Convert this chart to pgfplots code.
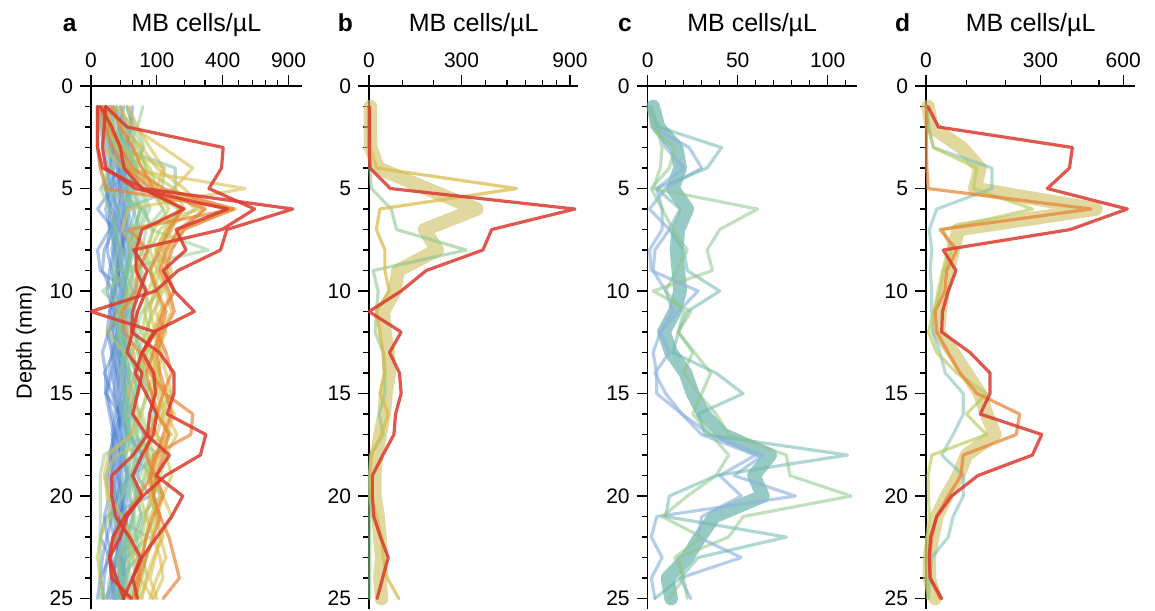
\documentclass[border=0pt]{standalone}
\usepackage{fontspec}
\setmainfont{Liberation Sans}
\usepackage{pgfplots}
\usepackage{pgfplotstable}
\pgfplotsset{compat=1.18}

\definecolor{cBlue}{HTML}{4A7CCF}
\definecolor{cLBlue}{HTML}{8FB4DE}
\definecolor{cTeal}{HTML}{6DB8B0}
\definecolor{cGreen}{HTML}{8DC68B}
\definecolor{cYG}{HTML}{B8C95C}
\definecolor{cYel}{HTML}{D9BC4E}
\definecolor{cOra}{HTML}{E8853A}
\definecolor{cRed}{HTML}{DB3A30}
\definecolor{cKhaki}{HTML}{CFC36A}
\definecolor{cMeanT}{HTML}{5FAEA5}

% one row per profile, values at depth 1..25 mm (MB cells/uL)
\pgfplotstableread{
name v1 v2 v3 v4 v5 v6 v7 v8 v9 v10 v11 v12 v13 v14 v15 v16 v17 v18 v19 v20 v21 v22 v23 v24 v25
B1 2 5 8 12 10 15 9 14 18 12 10 15 20 14 12 18 22 15 10 14 18 12 8 10 6
B2 20 28 35 25 18 22 30 20 15 25 30 22 18 25 28 20 15 22 30 25 18 20 15 12 8
B3 5 3 6 10 14 8 12 20 16 10 8 12 16 10 14 20 12 8 12 16 10 6 10 14 10
B4 30 40 25 18 22 28 20 25 32 22 18 25 20 28 22 16 20 26 18 22 28 20 16 10 14
B5 1 2 4 6 9 5 8 6 10 14 8 6 10 8 5 8 12 9 6 8 4 6 3 2 1
B6 12 18 24 30 20 16 24 35 28 20 24 30 22 18 26 32 24 18 22 16 24 30 20 18 22
B7 8 12 10 16 24 18 14 10 16 22 26 18 12 16 20 14 10 14 18 24 16 12 18 22 16
B8 40 35 30 22 28 35 26 18 24 30 20 16 22 30 35 25 18 24 32 26 20 15 22 28 20
B9 3 6 12 8 5 10 16 12 8 6 12 18 14 10 6 10 14 20 15 10 8 12 6 4 3
B10 15 22 18 26 32 24 18 14 20 26 18 22 28 20 16 24 30 22 16 20 26 18 22 26 20
B11 6 10 15 20 16 12 20 26 18 14 22 16 10 14 18 24 18 12 8 12 16 20 14 10 12
B12 25 18 12 16 20 26 32 22 16 20 14 10 16 22 28 20 14 10 16 24 18 14 20 16 12
LB1 10 20 30 45 35 25 30 40 28 20 30 38 26 20 25 30 36 28 22 30 40 32 24 30 26
LB2 2 4 8 15 25 20 12 18 22 30 24 16 20 26 18 12 18 24 30 22 16 12 8 14 10
LB3 35 45 38 28 20 30 42 34 26 20 16 24 32 22 18 26 20 14 18 24 30 22 16 20 24
LB4 5 10 14 10 8 14 20 16 12 18 24 20 14 10 16 22 28 20 14 10 12 16 22 18 14
T1 8 15 30 50 40 30 35 45 30 25 35 40 28 22 30 38 30 24 35 45 30 25 20 28 22
T2 20 30 45 35 28 40 55 38 30 40 30 25 35 45 32 28 36 50 40 30 25 35 30 22 18
T3 3 8 12 20 30 45 35 28 22 30 26 20 28 35 25 20 30 40 28 20 15 22 28 20 16
T4 12 20 25 32 40 55 45 30 38 45 35 30 24 30 40 35 28 22 30 35 42 30 25 20 15
G1 62 50 65 40 35 55 45 60 40 30 45 55 38 32 42 50 36 28 40 48 38 30 36 28 22
G2 5 25 55 70 60 80 55 45 60 70 50 40 55 62 48 40 50 58 42 35 45 38 30 36 28
G3 15 22 30 45 80 120 70 60 80 110 60 45 55 70 50 42 60 80 55 45 60 50 40 45 35
G4 2 6 15 30 45 60 90 75 55 65 85 70 50 60 75 55 48 65 72 50 40 48 55 40 32
G5 30 40 62 48 55 70 50 40 55 48 38 45 60 50 42 55 65 45 38 50 58 42 36 30 25
YG1 10 20 40 80 100 140 90 70 85 100 70 60 80 95 70 60 75 90 65 55 70 60 50 55 45
YG2 5 12 25 60 160 200 110 80 100 75 65 80 70 60 85 100 80 70 90 110 80 70 60 50 40
YG3 20 35 50 70 90 120 150 100 80 95 120 90 70 85 100 120 140 90 75 85 95 70 60 75 55
YG4 3 8 15 35 60 180 130 95 150 120 90 70 85 110 95 80 100 130 110 90 100 85 70 60 50
Y1 15 40 120 239 160 250 130 100 110 90 80 95 120 100 85 110 140 110 90 80 100 120 90 70 60
Y2 8 20 60 100 200 300 200 140 120 160 110 90 110 130 150 120 100 130 150 120 100 110 130 100 80
Y3 5 10 20 40 90 485 180 120 100 130 150 110 90 100 120 160 130 100 90 80 70 90 110 120 90
Y4 30 50 80 120 100 180 150 120 140 110 95 130 100 90 110 130 170 130 100 120 150 110 95 80 100
O1 4 8 20 40 120 463 200 150 130 160 120 100 130 150 120 100 140 120 100 90 110 140 160 180 120
O2 2 5 10 30 80 194 140 110 80 100 130 110 90 70 85 100 80 70 95 120 88 70 60 50 40
O3 10 20 40 60 90 300 180 130 110 140 160 120 100 110 130 150 120 100 80 90 110 90 70 55 45
R3 5 4 3 5 45 430 167 208 120 160 246 90 60 45 70 100 90 60 40 60 30 20 8 15 25
R4 2 10 20 25 60 200 60 47 47 70 50 40 30 60 50 40 70 142 98 194 150 100 60 40 50
bM 4 4 5 27 175 361 170 212 86 77 42 47 57 60 50 45 33 22 17 17 27 32 37 32 37
bR 1 1 1 3 63 940 426 387 175 96 0 96 61 91 96 79 74 41 10 10 14 34 57 40 24
bY 3 3 4 22 550 32 22 47 47 60 22 32 42 47 32 57 37 7 4 7 22 37 42 54 89
bG 1 1 1 2 7 66 82 318 12 27 22 18 42 47 47 30 42 4 2 2 2 2 2 2 2
cM 3 6 16 18 14 22 17 16 17 18 15 9 13 21 25 31 42 68 59 64 37 29 22 11 13
cB1 1 3 23 30 10 1 12 4 3 10 14 7 3 5 5 19 35 64 48 82 5 2 8 2 4
cB2 2 5 10 20 5 8 8 1 2 28 17 7 12 4 10 19 30 60 40 52 30 28 52 18 24
cT1 1 6 41 33 5 18 12 20 22 40 22 17 14 38 53 28 32 111 38 12 10 77 28 18 4
cG1 2 5 8 7 3 61 40 33 36 3 24 17 25 20 28 38 45 77 79 113 53 45 17 20 12
cG2 1 2 15 12 2 8 14 22 16 10 20 17 26 35 30 25 35 45 38 22 8 30 15 20 22
dM 5 14 87 133 120 488 79 66 54 42 34 30 66 99 133 150 172 99 79 50 26 16 8 8 22
dR 5 30 403 393 321 618 396 42 73 54 40 38 108 159 159 134 304 276 128 62 26 11 8 10 38
dO 1 1 1 2 5 470 34 75 50 46 22 26 54 83 126 239 230 91 85 54 26 14 8 10 34
dYG 2 6 18 125 116 277 42 62 42 34 18 6 26 75 150 99 150 14 5 6 8 2 1 2 4
dT 1 6 18 164 164 26 8 14 10 14 14 16 34 47 91 91 66 38 91 91 66 54 14 8 6
}\rawprof
\pgfplotstabletranspose[colnames from=name]\prof\rawprof

\pgfplotsset{
  panel/.style={
    scale only axis, width=#1, height=261.4pt,
    anchor=origin,
    y dir=reverse, ymin=0, ymax=25.5, xmin=0,
    axis x line=top, axis y line=left,
    axis line style={-, line width=0.6pt},
    every non boxed x axis/.append style={x axis line style={-}},
    every non boxed y axis/.append style={y axis line style={-}},
    tick align=outside, xtick align=outside, ytick align=outside,
    major tick length=5.5pt, minor tick length=3pt,
    every tick/.style={black, line width=0.6pt},
    ytick={0,5,10,15,20,25}, yticklabels={0,5,10,15,20,25},
    minor ytick={1,2,3,4,6,7,8,9,11,12,13,14,16,17,18,19,21,22,23,24},
    tick label style={font=\fontsize{10.5}{12}\selectfont},
    enlargelimits=false, no markers, clip=false,
  },
  prof/.style={line width=1.6pt, line join=round, line cap=round},
  mean/.style={line width=6.8pt, line join=round, line cap=round, opacity=0.65},
}

\begin{document}
\begin{tikzpicture}
\path[use as bounding box] (0,0) rectangle (577.5pt,-305pt);

% a: all profiles, square-root axis
\begin{axis}[panel=105.35pt, at={(45.5pt,-43pt)}, xmax=1024,
  x coord trafo/.code={\pgfmathparse{sqrt(#1)}},
  x coord inv trafo/.code={\pgfmathparse{(#1)^2}},
  xtick={0,100,400,900}, xticklabels={0,100,400,900},
  minor xtick={20,40,60,80,200,300,500,600,700,800}]
\pgfplotsinvokeforeach{B1,B2,B3,B4,B5,B6,B7,B8,B9,B10,B11,B12,cB1,cB2}{
  \addplot[prof, cBlue, opacity=0.45] table[x=#1, y expr=\coordindex+1]{\prof};}
\pgfplotsinvokeforeach{LB1,LB2,LB3,LB4}{
  \addplot[prof, cLBlue, opacity=0.5] table[x=#1, y expr=\coordindex+1]{\prof};}
\pgfplotsinvokeforeach{T1,T2,T3,T4,cT1,dT}{
  \addplot[prof, cTeal, opacity=0.5] table[x=#1, y expr=\coordindex+1]{\prof};}
\pgfplotsinvokeforeach{G1,G2,G3,G4,G5,cG1,cG2,bG}{
  \addplot[prof, cGreen, opacity=0.5] table[x=#1, y expr=\coordindex+1]{\prof};}
\pgfplotsinvokeforeach{YG1,YG2,YG3,YG4,dYG}{
  \addplot[prof, cYG, opacity=0.6] table[x=#1, y expr=\coordindex+1]{\prof};}
\pgfplotsinvokeforeach{Y1,Y2,Y3,Y4,bY}{
  \addplot[prof, cYel, opacity=0.6] table[x=#1, y expr=\coordindex+1]{\prof};}
\pgfplotsinvokeforeach{O1,O2,O3,dO}{
  \addplot[prof, cOra, opacity=0.7] table[x=#1, y expr=\coordindex+1]{\prof};}
\pgfplotsinvokeforeach{R3,R4,dR,bR}{
  \addplot[prof, cRed, opacity=0.85] table[x=#1, y expr=\coordindex+1]{\prof};}
\end{axis}

% b
\begin{axis}[panel=104.65pt, at={(184.5pt,-43pt)}, xmax=968,
  x coord trafo/.code={\pgfmathparse{ln((#1)/360+sqrt(((#1)/360)^2+1))}},
  xtick={0,300,900}, xticklabels={0,300,900},
  minor xtick={100,200,400,500,600,700,800}]
\addplot[mean, cKhaki] table[x=bM, y expr=\coordindex+1]{\prof};
\addplot[prof, cGreen, opacity=0.6] table[x=bG, y expr=\coordindex+1]{\prof};
\addplot[prof, cYel, opacity=0.75] table[x=bY, y expr=\coordindex+1]{\prof};
\addplot[prof, cRed, opacity=0.85] table[x=bR, y expr=\coordindex+1]{\prof};
\end{axis}

% c
\begin{axis}[panel=104.4pt, at={(323.85pt,-43pt)}, xmax=116,
  xtick={0,50,100}, xticklabels={0,50,100},
  minor xtick={10,20,30,40,60,70,80,90,110}]
\addplot[mean, cMeanT] table[x=cM, y expr=\coordindex+1]{\prof};
\addplot[prof, cLBlue, opacity=0.65] table[x=cB1, y expr=\coordindex+1]{\prof};
\addplot[prof, cLBlue, opacity=0.65] table[x=cB2, y expr=\coordindex+1]{\prof};
\addplot[prof, cTeal, opacity=0.55] table[x=cT1, y expr=\coordindex+1]{\prof};
\addplot[prof, cGreen, opacity=0.55] table[x=cG1, y expr=\coordindex+1]{\prof};
\addplot[prof, cGreen, opacity=0.55] table[x=cG2, y expr=\coordindex+1]{\prof};
\end{axis}

% d
\begin{axis}[panel=104.5pt, at={(463pt,-43pt)}, xmax=653,
  x coord trafo/.code={\pgfmathparse{ln((#1)/400+sqrt(((#1)/400)^2+1))}},
  xtick={0,300,600}, xticklabels={0,300,600},
  minor xtick={100,200,400,500}]
\addplot[mean, cKhaki] table[x=dM, y expr=\coordindex+1]{\prof};
\addplot[prof, cTeal, opacity=0.5] table[x=dT, y expr=\coordindex+1]{\prof};
\addplot[prof, cYG, opacity=0.65] table[x=dYG, y expr=\coordindex+1]{\prof};
\addplot[prof, cOra, opacity=0.75] table[x=dO, y expr=\coordindex+1]{\prof};
\addplot[prof, cRed, opacity=0.85] table[x=dR, y expr=\coordindex+1]{\prof};
\end{axis}

\foreach \lx/\tx/\lab in {34.85/98.2/a, 172.75/236.8/b, 312.5/376.1/c, 451.25/515.3/d}{
  \node[anchor=base, inner sep=0pt, font=\fontsize{12.3}{14}\selectfont\bfseries] at (\lx pt,-15.85pt) {\lab};
  \node[anchor=base, inner sep=0pt, font=\fontsize{12.5}{14}\selectfont] at (\tx pt,-15.85pt) {MB cells/µL};
}
\node[rotate=90, font=\fontsize{10.8}{12}\selectfont] at (13pt,-171pt) {Depth (mm)};
\end{tikzpicture}
\end{document}
